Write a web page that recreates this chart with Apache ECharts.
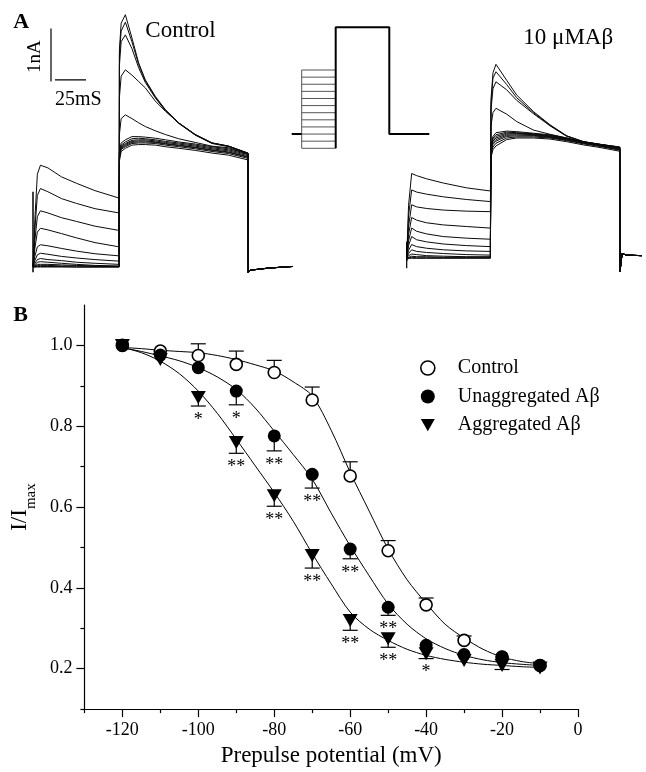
<!DOCTYPE html>
<html><head><meta charset="utf-8">
<script src="https://cdn.jsdelivr.net/npm/echarts@6/dist/echarts.min.js"></script>
<style>html,body{margin:0;padding:0;background:#fff}#c{width:646px;height:772px}</style>
</head><body><div id="c"></div>
<script>
const FONT = '"Liberation Serif", "Times New Roman", serif';

// ---------- Panel A: current traces (time ms, current nA) ----------
const ctrlPreT = [0, 1.5, 3.5, 6, 12, 23, 35, 50, 69.4];
const ctrlPreI = [
  [0, 0.9, 1.75, 1.92, 1.87, 1.70, 1.58, 1.44, 1.30],
  [0, 0.7, 1.35, 1.48, 1.42, 1.29, 1.20, 1.10, 1.02],
  [0, 0.5, 0.95, 1.06, 1.02, 0.93, 0.86, 0.77, 0.69],
  [0, 0.35, 0.66, 0.73, 0.70, 0.63, 0.55, 0.46, 0.38],
  [0, 0.2, 0.38, 0.42, 0.40, 0.35, 0.30, 0.25, 0.21],
  [0, 0.12, 0.23, 0.26, 0.24, 0.20, 0.17, 0.14, 0.11],
  [0, 0.07, 0.14, 0.16, 0.14, 0.12, 0.09, 0.07, 0.05],
  [0, 0.04, 0.09, 0.10, 0.09, 0.07, 0.05, 0.03, 0.02],
  [0, 0.02, 0.05, 0.05, 0.05, 0.04, 0.03, 0.02, 0.01],
  [0, 0.01, 0.03, 0.03, 0.03, 0.02, 0.02, 0.01, 0.01],
  [0, 0.01, 0.01, 0.01, 0.01, 0.01, 0, 0, 0],
  [0, 0, 0, 0, 0, 0, 0, 0, 0]
];
const ctrlTestT = [69.6, 71, 74.4, 79.7, 85.1, 90.5, 98.5, 106.6, 117.3, 130.7, 144.2, 157.6, 173.2];
const ctrlTestI = [
  [2.00, 2.18, 2.24, 2.30, 2.31, 2.31, 2.30, 2.27, 2.24, 2.20, 2.15, 2.11, 2.02],
  [2.05, 2.22, 2.27, 2.33, 2.34, 2.34, 2.33, 2.30, 2.27, 2.23, 2.18, 2.14, 2.05],
  [2.08, 2.24, 2.29, 2.35, 2.36, 2.36, 2.35, 2.32, 2.29, 2.25, 2.20, 2.16, 2.07],
  [2.10, 2.26, 2.31, 2.37, 2.38, 2.38, 2.36, 2.33, 2.30, 2.26, 2.21, 2.17, 2.08],
  [2.12, 2.28, 2.33, 2.39, 2.40, 2.40, 2.38, 2.35, 2.32, 2.28, 2.23, 2.19, 2.10],
  [2.14, 2.30, 2.36, 2.42, 2.43, 2.42, 2.40, 2.37, 2.34, 2.30, 2.25, 2.21, 2.12],
  [2.17, 2.34, 2.40, 2.46, 2.46, 2.45, 2.43, 2.40, 2.36, 2.32, 2.27, 2.23, 2.14],
  [2.50, 2.80, 2.87, 2.80, 2.72, 2.65, 2.57, 2.50, 2.42, 2.35, 2.28, 2.25, 2.13],
  [3.20, 3.60, 3.72, 3.62, 3.50, 3.38, 3.13, 2.94, 2.72, 2.49, 2.33, 2.27, 2.14],
  [3.80, 4.25, 4.38, 4.12, 3.76, 3.48, 3.19, 2.95, 2.71, 2.49, 2.34, 2.28, 2.14],
  [4.00, 4.45, 4.62, 4.25, 3.82, 3.51, 3.21, 2.96, 2.72, 2.50, 2.34, 2.28, 2.15],
  [4.10, 4.60, 4.76, 4.32, 3.85, 3.53, 3.22, 2.97, 2.72, 2.50, 2.34, 2.28, 2.15]
];
const ctrlTailT = [173.4, 175, 190, 209];
const ctrlTailI = [-0.11, -0.06, -0.02, 0.01];
const ctrlSpike = [-0.1, 1.42];

const abPreT = [0, 1.5, 4, 8, 16, 29.5, 48, 67.4];
const abPreI = [
  [0, 1.0, 1.60, 1.56, 1.50, 1.42, 1.33, 1.27],
  [0, 0.8, 1.29, 1.25, 1.21, 1.16, 1.11, 1.07],
  [0, 0.6, 1.01, 0.97, 0.94, 0.91, 0.89, 0.88],
  [0, 0.45, 0.77, 0.72, 0.67, 0.63, 0.60, 0.57],
  [0, 0.33, 0.57, 0.51, 0.46, 0.41, 0.38, 0.36],
  [0, 0.24, 0.41, 0.35, 0.31, 0.27, 0.24, 0.22],
  [0, 0.15, 0.26, 0.22, 0.19, 0.16, 0.14, 0.13],
  [0, 0.09, 0.16, 0.13, 0.11, 0.09, 0.07, 0.06],
  [0, 0.05, 0.08, 0.07, 0.05, 0.04, 0.03, 0.03],
  [0, 0.02, 0.04, 0.03, 0.03, 0.02, 0.02, 0.02],
  [0, 0.01, 0.02, 0.01, 0.01, 0.01, 0.01, 0.01],
  [-0.05, 0, 0, 0, 0, 0, 0, 0]
];
const abTestT = [67.9, 69.5, 71.9, 80.5, 88.6, 102, 115.4, 128.9, 142.3, 155.7, 171.6];
const abTestI = [
  [1.90, 2.05, 2.12, 2.24, 2.27, 2.27, 2.25, 2.20, 2.14, 2.09, 2.02],
  [1.95, 2.10, 2.17, 2.27, 2.29, 2.29, 2.27, 2.22, 2.16, 2.11, 2.04],
  [2.00, 2.15, 2.21, 2.30, 2.31, 2.31, 2.28, 2.23, 2.17, 2.12, 2.05],
  [2.02, 2.18, 2.24, 2.32, 2.33, 2.32, 2.29, 2.24, 2.18, 2.13, 2.06],
  [2.05, 2.21, 2.27, 2.34, 2.35, 2.33, 2.30, 2.25, 2.18, 2.13, 2.07],
  [2.08, 2.24, 2.30, 2.36, 2.36, 2.34, 2.31, 2.26, 2.19, 2.14, 2.07],
  [2.10, 2.27, 2.33, 2.38, 2.37, 2.35, 2.32, 2.26, 2.19, 2.14, 2.08],
  [2.12, 2.30, 2.37, 2.40, 2.39, 2.36, 2.33, 2.27, 2.20, 2.15, 2.09],
  [2.50, 2.75, 2.83, 2.72, 2.58, 2.42, 2.34, 2.27, 2.19, 2.14, 2.09],
  [2.80, 3.20, 3.33, 3.18, 2.98, 2.73, 2.50, 2.30, 2.20, 2.15, 2.09],
  [2.90, 3.40, 3.52, 3.28, 3.03, 2.75, 2.51, 2.31, 2.20, 2.15, 2.10],
  [3.00, 3.50, 3.66, 3.36, 3.08, 2.77, 2.52, 2.31, 2.20, 2.15, 2.10]
];
const abTailT = [171.8, 173.5, 177, 189.3];
const abTailI = [-0.25, 0.09, 0.06, 0.05];
const abSpike = [-0.19, 0.31];

// scale bar (1 nA, 25 ms)
const scaleNA = 1, scaleMS = 25;

// ---------- Voltage protocol (schematic) ----------
const prepulseLevels = [-120, -110, -100, -90, -80, -70, -60, -50, -40, -30, -20, -10];
const holdingV = -100, testV = 50;
const protoT = [0, 10, 44, 97.6, 137.6];

// ---------- Panel B data ----------
const voltages = [-120, -110, -100, -90, -80, -70, -60, -50, -40, -30, -20, -10];
const ctrlMean  = [1.0, 0.986, 0.975, 0.953, 0.933, 0.865, 0.677, 0.492, 0.358, 0.270, 0.229, 0.208];
const ctrlErr   = [0, 0, 0.029, 0.033, 0.030, 0.032, 0.035, 0.025, 0.017, 0.011, 0, 0];
const unaggMean = [1.0, 0.976, 0.945, 0.887, 0.776, 0.681, 0.496, 0.352, 0.258, 0.235, 0.229, 0.208];
const unaggErr  = [0, 0, 0, 0.034, 0.037, 0.034, 0.024, 0.020, 0, 0, 0, 0];
const unaggSig  = ['', '', '', '*', '**', '**', '**', '**', '', '', '', ''];
const aggMean   = [1.0, 0.965, 0.871, 0.760, 0.628, 0.480, 0.319, 0.274, 0.237, 0.220, 0.208, 0.202];
const aggErr    = [0, 0, 0.021, 0.027, 0.026, 0.031, 0.024, 0.021, 0.012, 0, 0.010, 0];
const aggSig    = ['', '', '*', '**', '**', '**', '**', '**', '*', '', '', ''];

const fitV = [-120,-115,-110,-105,-100,-95,-90,-85,-80,-75,-70,-65,-60,-55,-50,-45,-40,-35,-30,-25,-20,-15,-10];
const ctrlFit  = [0.995,0.992,0.988,0.985,0.982,0.975,0.965,0.952,0.937,0.910,0.875,0.790,0.686,0.590,0.496,0.420,0.362,0.310,0.276,0.248,0.229,0.218,0.212];
const unaggFit = [0.994,0.985,0.974,0.962,0.945,0.922,0.891,0.845,0.788,0.730,0.669,0.585,0.504,0.430,0.360,0.310,0.274,0.250,0.233,0.222,0.215,0.211,0.208];
const aggFit   = [0.995,0.982,0.961,0.930,0.887,0.832,0.768,0.702,0.636,0.565,0.485,0.410,0.340,0.298,0.270,0.248,0.233,0.223,0.216,0.211,0.208,0.205,0.203];

const xMajor = [-120, -100, -80, -60, -40, -20, 0];
const xMinor = [-130, -110, -90, -70, -50, -30, -10];
const yMajor = [0.2, 0.4, 0.6, 0.8, 1.0];
const yMinor = [0.1, 0.3, 0.5, 0.7, 0.9];

// ---------- build ----------
const PX_PER_MS = 1.2415;
const CTRL_TMAX = 209, AB_TMAX = 190;
const series = [];
const lineBase = {type: 'line', symbol: 'none', showSymbol: false, silent: true, clip: false, animation: false};

function addTraces(preT, preI, testT, testI, tailT, tailI, g) {
  for (let k = 0; k < preI.length; k++) {
    const d = [];
    preT.forEach((t, j) => d.push([t, preI[k][j]]));
    testT.forEach((t, j) => d.push([t, testI[k][j]]));
    tailT.forEach((t, j) => d.push([t, tailI[j]]));
    series.push(Object.assign({}, lineBase, {xAxisIndex: g, yAxisIndex: g, data: d,
      lineStyle: {width: 1, color: '#0a0a0a'}}));
  }
}
addTraces(ctrlPreT, ctrlPreI, ctrlTestT, ctrlTestI, ctrlTailT, ctrlTailI, 0);
addTraces(abPreT, abPreI, abTestT, abTestI, abTailT, abTailI, 1);
series.push(Object.assign({}, lineBase, {xAxisIndex: 0, yAxisIndex: 0, data: [[0, ctrlSpike[0]], [0, ctrlSpike[1]]], lineStyle: {width: 1.5, color: '#000'}}));
series.push(Object.assign({}, lineBase, {xAxisIndex: 1, yAxisIndex: 1, data: [[0, abSpike[0]], [0, abSpike[1]]], lineStyle: {width: 1.2, color: '#000'}}));
series.push(Object.assign({}, lineBase, {xAxisIndex: 0, yAxisIndex: 0, data: [[14.5, 3.5], [14.5, 3.5 + scaleNA]], lineStyle: {width: 1.2, color: '#000'}}));
series.push(Object.assign({}, lineBase, {xAxisIndex: 0, yAxisIndex: 0, data: [[17.7, 3.53], [17.7 + scaleMS, 3.53]], lineStyle: {width: 1.2, color: '#000'}}));

prepulseLevels.forEach(v => {
  series.push(Object.assign({}, lineBase, {xAxisIndex: 2, yAxisIndex: 2, data: [[protoT[1], v], [protoT[2], v]], lineStyle: {width: 1, color: '#555'}}));
});
series.push(Object.assign({}, lineBase, {xAxisIndex: 2, yAxisIndex: 2,
  data: [[protoT[1], prepulseLevels[0]], [protoT[1], prepulseLevels[prepulseLevels.length - 1]]], lineStyle: {width: 1, color: '#555'}}));
series.push(Object.assign({}, lineBase, {xAxisIndex: 2, yAxisIndex: 2,
  data: [[protoT[0], holdingV], [protoT[1], holdingV]], lineStyle: {width: 2, color: '#000'}}));
series.push(Object.assign({}, lineBase, {xAxisIndex: 2, yAxisIndex: 2,
  data: [[protoT[2], prepulseLevels[0]], [protoT[2], testV], [protoT[3], testV], [protoT[3], holdingV], [protoT[4], holdingV]],
  lineStyle: {width: 2, color: '#000'}}));

[ctrlFit, unaggFit, aggFit].forEach(f => {
  series.push(Object.assign({}, lineBase, {xAxisIndex: 3, yAxisIndex: 3, smooth: 0.3,
    data: fitV.map((v, i) => [v, f[i]]), lineStyle: {width: 1, color: '#000'}, z: 2}));
});

function errSeries(mean, err, dir, sig) {
  return {
    type: 'custom', xAxisIndex: 3, yAxisIndex: 3, silent: true, animation: false, z: 3,
    data: voltages.map((v, i) => [v, mean[i], err[i]]),
    encode: {x: 0, y: 1},
    renderItem: function (params, api) {
      const v = api.value(0), m = api.value(1), e = api.value(2);
      const p0 = api.coord([v, m]);
      const p1 = api.coord([v, m + dir * e]);
      const ch = [];
      if (e > 0) {
        ch.push({type: 'line', shape: {x1: p0[0], y1: p0[1], x2: p1[0], y2: p1[1]}, style: {stroke: '#000', lineWidth: 1.2}});
        ch.push({type: 'line', shape: {x1: p1[0] - 7.5, y1: p1[1], x2: p1[0] + 7.5, y2: p1[1]}, style: {stroke: '#000', lineWidth: 1.2}});
      }
      const s = sig ? sig[params.dataIndex] : '';
      if (s) {
        ch.push({type: 'text', x: p1[0], y: p1[1] + 14,
          style: {text: s, fill: '#000', font: '18px ' + FONT, align: 'center', verticalAlign: 'middle', textAlign: 'center', textVerticalAlign: 'middle'}});
      }
      return {type: 'group', children: ch};
    }
  };
}
series.push(errSeries(ctrlMean, ctrlErr, 1, null));
series.push(errSeries(unaggMean, unaggErr, -1, unaggSig));
series.push(errSeries(aggMean, aggErr, -1, aggSig));

const TRI = 'path://M0,0L16,0L8,14Z';
series.push({type: 'scatter', name: 'Control', xAxisIndex: 3, yAxisIndex: 3, animation: false, z: 5,
  symbol: 'circle', symbolSize: 12, data: voltages.map((v, i) => [v, ctrlMean[i]]),
  itemStyle: {color: '#fff', borderColor: '#000', borderWidth: 1.6, opacity: 1}});
series.push({type: 'scatter', name: 'Aggregated A\u03b2', xAxisIndex: 3, yAxisIndex: 3, animation: false, z: 5,
  symbol: TRI, symbolSize: [15, 13], data: voltages.map((v, i) => [v, aggMean[i]]),
  itemStyle: {color: '#000', opacity: 1}});
series.push({type: 'scatter', name: 'Unaggregated A\u03b2', xAxisIndex: 3, yAxisIndex: 3, animation: false, z: 6,
  symbol: 'circle', symbolSize: 13, data: voltages.map((v, i) => [v, unaggMean[i]]),
  itemStyle: {color: '#000', opacity: 1}});

const hidden = {show: false, splitLine: {show: false}};
const tickLabelStyle = {fontFamily: FONT, fontSize: 18, color: '#000'};

const option = {
  backgroundColor: '#fff',
  animation: false,
  grid: [
    {left: 33, top: 2, width: CTRL_TMAX * PX_PER_MS, height: 275.6},
    {left: 406.7, top: 3.9, width: AB_TMAX * PX_PER_MS, height: 270.3},
    {left: 291.7, top: 20.2, width: 138, height: 135.2},
    {left: 80, top: 305, width: 498, height: 406}
  ],
  xAxis: [
    Object.assign({type: 'value', gridIndex: 0, min: 0, max: CTRL_TMAX}, hidden),
    Object.assign({type: 'value', gridIndex: 1, min: 0, max: AB_TMAX}, hidden),
    Object.assign({type: 'value', gridIndex: 2, min: 0, max: 138}, hidden),
    {type: 'value', gridIndex: 3, min: -130, max: 0, interval: 10, position: 'bottom',
      axisLine: {show: true, onZero: false, lineStyle: {color: '#000', width: 1.2}},
      axisTick: {show: true, customValues: xMajor, length: 8, lineStyle: {color: '#000', width: 1.2}},
      axisLabel: {customValues: xMajor, margin: 12, formatter: v => String(v), ...tickLabelStyle},
      splitLine: {show: false},
      name: 'Prepulse potential (mV)', nameLocation: 'middle', nameGap: 30,
      nameTextStyle: {fontFamily: FONT, fontSize: 23, color: '#000'}},
    {type: 'value', gridIndex: 3, min: -130, max: 0, interval: 10, position: 'bottom',
      axisLine: {show: false, onZero: false},
      axisTick: {show: true, customValues: xMinor, length: 4, lineStyle: {color: '#000', width: 1.2}},
      axisLabel: {show: false}, splitLine: {show: false}}
  ],
  yAxis: [
    Object.assign({type: 'value', gridIndex: 0, min: -0.2, max: 5.0}, hidden),
    Object.assign({type: 'value', gridIndex: 1, min: -0.3, max: 4.8}, hidden),
    Object.assign({type: 'value', gridIndex: 2, min: -130, max: 60}, hidden),
    {type: 'value', gridIndex: 3, min: 0.1, max: 1.1, interval: 0.1, position: 'left',
      axisLine: {show: true, onZero: false, lineStyle: {color: '#000', width: 1.2}},
      axisTick: {show: true, customValues: yMajor, length: 8, lineStyle: {color: '#000', width: 1.2}},
      axisLabel: {customValues: yMajor, margin: 12, formatter: v => v.toFixed(1), ...tickLabelStyle},
      splitLine: {show: false},
      name: 'I/I{sub|max}', nameLocation: 'middle', nameGap: 40,
      nameTextStyle: {fontFamily: FONT, fontSize: 23, color: '#000', lineHeight: 23,
        rich: {sub: {fontFamily: FONT, fontSize: 15, color: '#000', lineHeight: 15, verticalAlign: 'top', padding: [16, 0, 0, 0]}}}},
    {type: 'value', gridIndex: 3, min: 0.1, max: 1.1, interval: 0.1, position: 'left',
      axisLine: {show: false, onZero: false},
      axisTick: {show: true, customValues: yMinor, length: 4, lineStyle: {color: '#000', width: 1.2}},
      axisLabel: {show: false}, splitLine: {show: false}}
  ],
  legend: {
    orient: 'vertical', left: 415, top: 353, itemWidth: 14, itemHeight: 14, itemGap: 8.5,
    selectedMode: false,
    textStyle: {fontFamily: FONT, fontSize: 20, color: '#000', lineHeight: 20, padding: [0, 0, 0, 18]},
    data: [
      {name: 'Control', icon: 'circle', itemStyle: {color: '#fff', borderColor: '#000', borderWidth: 1.6, opacity: 1}},
      {name: 'Unaggregated A\u03b2', icon: 'circle', itemStyle: {color: '#000', opacity: 1}},
      {name: 'Aggregated A\u03b2', icon: TRI, itemStyle: {color: '#000', opacity: 1}}
    ]
  },
  graphic: [
    {type: 'text', x: 13.3, y: 22.5, style: {text: 'A', font: 'bold 22px ' + FONT, fill: '#000', align: 'left', verticalAlign: 'middle'}},
    {type: 'text', x: 13.3, y: 315.8, style: {text: 'B', font: 'bold 22px ' + FONT, fill: '#000', align: 'left', verticalAlign: 'middle'}},
    {type: 'text', x: 145.3, y: 30.5, style: {text: 'Control', font: '23px ' + FONT, fill: '#000', align: 'left', verticalAlign: 'middle'}},
    {type: 'text', x: 523.3, y: 37.5, style: {text: '10 \u03bcMA\u03b2', font: '23px ' + FONT, fill: '#000', align: 'left', verticalAlign: 'middle'}},
    {type: 'text', x: 35, y: 56.7, rotation: Math.PI / 2, style: {text: '1nA', font: '19px ' + FONT, fill: '#000', align: 'center', verticalAlign: 'middle'}},
    {type: 'text', x: 55, y: 100, style: {text: '25mS', font: '20px ' + FONT, fill: '#000', align: 'left', verticalAlign: 'middle'}}
  ],
  series: series
};

const chart = echarts.init(document.getElementById('c'), null, {renderer: 'canvas'});
chart.setOption(option);
</script>
</body></html>
